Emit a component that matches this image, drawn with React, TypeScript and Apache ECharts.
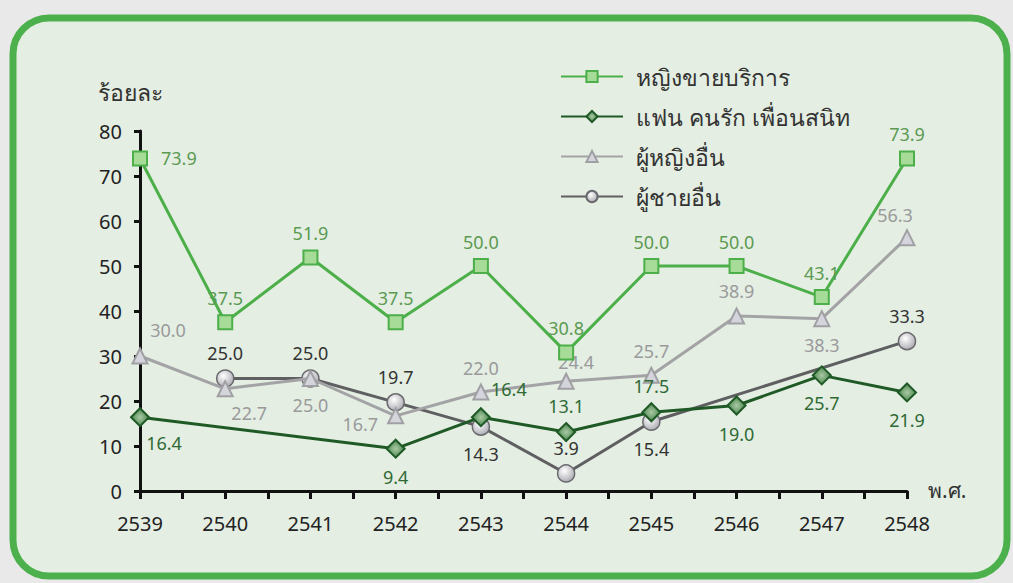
import React, { useEffect, useRef } from "react";
import * as echarts from "echarts";

const years = [2539, 2540, 2541, 2542, 2543, 2544, 2545, 2546, 2547, 2548];
const seriesNames = ["หญิงขายบริการ", "แฟน คนรัก เพื่อนสนิท", "ผู้หญิงอื่น", "ผู้ชายอื่น"];
const sexWorker = [73.9, 37.5, 51.9, 37.5, 50.0, 30.8, 50.0, 50.0, 43.1, 73.9];
const partner = [16.4, null, null, 9.4, 16.4, 13.1, 17.5, 19.0, 25.7, 21.9];
const otherWomen = [30.0, 22.7, 25.0, 16.7, 22.0, 24.4, 25.7, 38.9, 38.3, 56.3];
const otherMen = [null, 25.0, 25.0, 19.7, 14.3, 3.9, 15.4, null, null, 33.3];
const yTicks = { min: 0, max: 80, interval: 10 };

const sexWorkerPos = ["r", "t", "t", "t", "t", "t", "t", "t", "t", "t"];
const partnerPos = ["br", "", "", "b", "tr", "t", "t", "b", "b", "b"];
const otherWomenPos = ["tr", "br", "b", "l", "t", "tx", "t", "t", "b", "tl"];
const otherMenPos = ["", "t", "t", "t", "b", "t", "b", "", "", "t"];

function labelFor(p: string) {
  switch (p) {
    case "r": return { position: "right", offset: [8, 0] };
    case "l": return { position: "left", offset: [-4, 8] };
    case "t": return { position: "top", offset: [0, -2] };
    case "tx": return { position: "top", offset: [10, 3] };
    case "b": return { position: "bottom", offset: [0, 4] };
    case "tr": return { position: "top", offset: [28, -4] };
    case "br": return { position: "bottom", offset: [24, 2] };
    case "tl": return { position: "top", offset: [-12, 0] };
    default: return { position: "top" };
  }
}

function buildData(vals: (number | null)[], pos: string[]) {
  return vals.map((v, i) => {
    if (v === null) return [years[i], null];
    return { value: [years[i], v], label: labelFor(pos[i]) };
  });
}

const FONT = "'Noto Sans', 'DejaVu Sans', sans-serif";

export default function App() {
  const ref = useRef<HTMLDivElement>(null);
  useEffect(() => {
    const chart = echarts.init(ref.current!, null, { renderer: "svg" });
    const mkLabel = (color: string) => ({
      show: true,
      fontSize: 18,
      color,
      fontFamily: FONT,
      formatter: (p: any) => Number(p.value[1]).toFixed(1),
    });
    chart.setOption({
      animation: false,
      backgroundColor: "#e9e9ea",
      graphic: [
        {
          type: "rect",
          z: -10,
          shape: { x: 13, y: 18, width: 994, height: 558, r: 36 },
          style: { fill: "#e4eee2", stroke: "#4cb14c", lineWidth: 7 },
        },
        {
          type: "text",
          left: 98,
          top: 80,
          style: { text: "ร้อยละ", fontSize: 23, fill: "#333", fontFamily: FONT },
        },
        {
          type: "text",
          left: 928,
          top: 479,
          style: { text: "พ.ศ.", fontSize: 21, fill: "#333", fontFamily: FONT },
        },
      ],
      legend: {
        orient: "vertical",
        left: 555,
        top: 60,
        itemWidth: 62,
        itemHeight: 14,
        itemGap: 17,
        data: seriesNames,
        textStyle: { fontSize: 23, color: "#333", fontFamily: FONT, padding: [0, 0, 0, 8] },
      },
      grid: { left: 140, right: 106, top: 131, bottom: 92 },
      xAxis: {
        type: "value",
        min: years[0],
        max: years[years.length - 1],
        interval: 1,
        axisLine: { show: true, lineStyle: { color: "#111", width: 3 } },
        axisTick: { show: true, length: 8, lineStyle: { color: "#111", width: 3 } },
        minorTick: { show: true, splitNumber: 2, length: 8, lineStyle: { color: "#111", width: 3 } },
        splitLine: { show: false },
        axisLabel: { fontSize: 20, color: "#222", margin: 22, fontFamily: FONT, formatter: (v: number) => String(v) },
      },
      yAxis: {
        type: "value",
        min: yTicks.min,
        max: yTicks.max,
        interval: yTicks.interval,
        axisLine: { show: true, lineStyle: { color: "#111", width: 3 } },
        axisTick: { show: true, length: 6, lineStyle: { color: "#111", width: 3 } },
        splitLine: { show: false },
        axisLabel: { fontSize: 20, color: "#222", margin: 18, fontFamily: FONT },
      },
      series: [
        {
          name: seriesNames[0],
          type: "line",
          data: buildData(sexWorker, sexWorkerPos),
          symbol: "rect",
          symbolSize: 14,
          lineStyle: { color: "#4caf4a", width: 3 },
          itemStyle: { color: "#a6dc98", borderColor: "#4caf4a", borderWidth: 2 },
          label: mkLabel("#5c9a52"),
          z: 4,
        },
        {
          name: seriesNames[1],
          type: "line",
          connectNulls: true,
          data: buildData(partner, partnerPos),
          symbol: "diamond",
          symbolSize: 18,
          lineStyle: { color: "#1f5a26", width: 3 },
          itemStyle: {
            color: new echarts.graphic.RadialGradient(0.5, 0.5, 0.6, [
              { offset: 0, color: "#a9c9a4" },
              { offset: 1, color: "#3b7a40" },
            ]),
            borderColor: "#1f5a26",
            borderWidth: 2,
          },
          label: mkLabel("#2f6a35"),
          z: 3,
        },
        {
          name: seriesNames[2],
          type: "line",
          data: buildData(otherWomen, otherWomenPos),
          symbol: "triangle",
          symbolSize: 15,
          lineStyle: { color: "#a3a3a6", width: 3 },
          itemStyle: { color: "#d4d4dc", borderColor: "#a0a0a4", borderWidth: 2 },
          label: mkLabel("#9a9a9c"),
          z: 2,
        },
        {
          name: seriesNames[3],
          type: "line",
          connectNulls: true,
          data: buildData(otherMen, otherMenPos),
          symbol: "circle",
          symbolSize: 17,
          lineStyle: { color: "#5f5f62", width: 3 },
          itemStyle: {
            color: new echarts.graphic.RadialGradient(0.4, 0.35, 0.7, [
              { offset: 0, color: "#ffffff" },
              { offset: 1, color: "#a8a8b0" },
            ]),
            borderColor: "#6a6a6e",
            borderWidth: 1.5,
          },
          label: mkLabel("#333333"),
          z: 1,
        },
      ],
    });
    return () => chart.dispose();
  }, []);
  return (
    <div
      ref={ref}
      style={{ position: "fixed", left: 0, top: 0, width: 1013, height: 583 }}
    />
  );
}
